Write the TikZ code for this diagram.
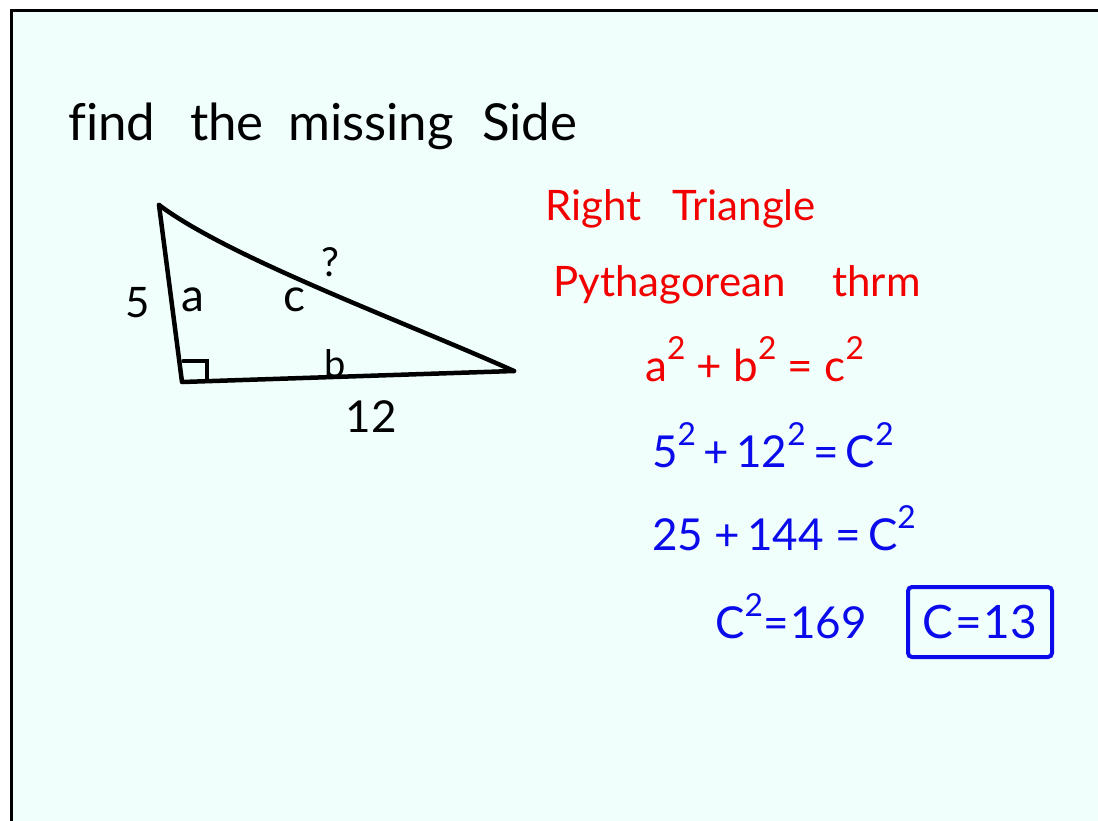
\documentclass[tikz,border=0pt]{standalone}
\usepackage{fontspec}
\setmainfont{Lato}[Ligatures=NoCommon]
\definecolor{board}{RGB}{240,255,252}
\definecolor{inkred}{RGB}{242,0,0}
\definecolor{inkblue}{RGB}{10,10,235}
\newcommand\sqr{\raisebox{0.5em}{\scalebox{0.72}{2}}}
\tikzset{
  ink/.style={line width=4.5pt, line cap=round, line join=round},
  title/.style={anchor=base west, inner sep=0pt, font=\fontsize{51}{60}\selectfont},
  redtxt/.style={anchor=base west, inner sep=0pt, text=inkred, font=\fontsize{42}{50}\selectfont},
  eqred/.style={anchor=base west, inner sep=0pt, text=inkred, font=\fontsize{44}{52}\selectfont},
  eqblue/.style={anchor=base west, inner sep=0pt, text=inkblue, font=\fontsize{44}{52}\selectfont},
  lbl/.style={inner sep=0pt, font=\fontsize{42}{50}\selectfont}
}
\begin{document}
\begin{tikzpicture}[x=1pt,y=-1pt]
\useasboundingbox (0,0) rectangle (1098,820);
\clip (0,0) rectangle (1098,820);
\fill[white] (0,0) rectangle (1098,820);
\draw[line width=3pt, fill=board] (11,10) rectangle (1120,840);

% title
\node[title] (w1) at (68,140) {find};
\node[title] (w2) at (190,140) {the};
\node[title] (w3) at (288,140) {missing};
\node[title] (w4) at (482,140) {Side};

% triangle
\coordinate (A) at (159,205);
\coordinate (B) at (182,382);
\coordinate (C) at (514,371);
\draw[ink] (A) -- (B) -- (C);
\draw[ink] (A) .. controls (230,258) and (400,320) .. (C);
\draw[line width=3.5pt, line cap=round] (183,361) -- (207,361) -- (207,380);

\node[lbl] (five) at (138,303) {5};
\node[lbl, font=\fontsize{46}{54}\selectfont] (la) at (193,300) {a};
\node[lbl, font=\fontsize{46}{54}\selectfont] (lc) at (294,300) {c};
\node[lbl, font=\fontsize{40}{48}\selectfont] (q) at (330,262) {?};
\node[lbl, font=\fontsize{38}{46}\selectfont] (lb) at (335,364) {b};
\node[lbl, font=\fontsize{44}{52}\selectfont] (twelve) at (371,417) {12};

% red notes
\node[redtxt] (r1) at (545,220) {Right};
\node[redtxt] (r2) at (672,220) {Triangle};
\node[redtxt] (p1) at (553,296) {Pythagorean};
\node[redtxt] (p2) at (832,296) {thrm};
\node[eqred] (e1) at (645,381) {a\sqr{} + b\sqr{} = c\sqr};

% blue work
\node[eqblue] (e2) at (652,467) {5\sqr\,+\,12\sqr\,=\,C\sqr};
\node[eqblue] (e3) at (652,550) {25 +\,144 =\,C\sqr};
\node[eqblue] (e4) at (715,638) {C\sqr\kern1pt=\kern1pt169};
\node[draw=inkblue, line width=4pt, rounded corners=4pt, text=inkblue,
      minimum width=144pt, minimum height=70pt, inner sep=0pt,
      font=\fontsize{46}{54}\selectfont] (ans) at (980,622) {C\kern2pt=\kern2pt13};
\end{tikzpicture}
\end{document}
